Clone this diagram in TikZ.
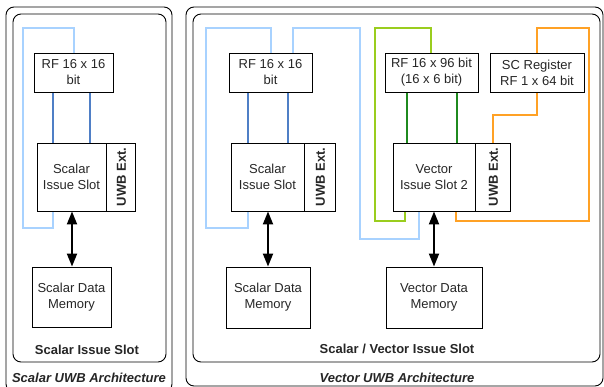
\documentclass[tikz,border=0pt]{standalone}
\usepackage{fontspec}
\setmainfont{Liberation Sans}
\usepackage{tikz}
\usetikzlibrary{arrows.meta, positioning, backgrounds}
\definecolor{txtgray}{HTML}{262626}
\definecolor{lightbus}{HTML}{A8D2FF}
\definecolor{scalarbus}{HTML}{4F7FC6}
\definecolor{limebus}{HTML}{9ACD1E}
\definecolor{vectorbus}{HTML}{1F8A1F}
\definecolor{scbus}{HTML}{FFA125}
\tikzstyle{block} = [rectangle, draw=black, line width=0.9pt, text=txtgray, align=center, inner sep=1pt, font=\fontsize{13}{16}\selectfont]
\tikzstyle{uwb} = [block, minimum height=68, font=\fontsize{13}{16}\selectfont\bfseries]
\tikzstyle{frame} = [draw=black, line width=0.9pt, rounded corners=8pt]
\tikzstyle{bus} = [line width=1.8pt]
\tikzstyle{memarrow} = [line width=2pt, {Triangle[length=13pt,width=10pt]}-{Triangle[length=13pt,width=10pt]}]
\tikzstyle{caption} = [text=txtgray, font=\fontsize{13}{16}\selectfont\bfseries]

\begin{document}
\begin{tikzpicture}[x=1pt, y=-1pt]
    \clip (0,0) rectangle (604,387);

    % Frames
    \draw[frame] (6,7) rectangle (172,392);
    \draw[frame] (13,14) rectangle (166,362);
    \draw[frame] (186,7) rectangle (603,386);
    \draw[frame] (193,14) rectangle (600,362);

    % Scalar architecture
    \node (ls_rf) [block, minimum width=79, minimum height=39] at (73.5,72.5) {RF 16 x 16\\bit};
    \node (ls_slot) [block, minimum width=69, minimum height=68] at (71.5,177) {Scalar\\Issue Slot};
    \node (ls_uwb) [uwb, minimum width=29, right=0pt of ls_slot] {\rotatebox{90}{UWB Ext.}};
    \node (ls_mem) [block, minimum width=79, minimum height=60] at (71.5,297) {Scalar Data\\Memory};

    % Vector architecture, scalar part
    \node (vs_rf) [block, minimum width=83, minimum height=39] at (270.5,72.5) {RF 16 x 16\\bit};
    \node (vs_slot) [block, minimum width=73, minimum height=68] at (267.5,177) {Scalar\\Issue Slot};
    \node (vs_uwb) [uwb, minimum width=31, right=0pt of vs_slot] {\rotatebox{90}{UWB Ext.}};
    \node (vs_mem) [block, minimum width=84, minimum height=61] at (268,297.5) {Scalar Data\\Memory};

    % Vector architecture, vector part
    \node (vv_rf) [block, minimum width=93, minimum height=39] at (431.5,72.5) {RF 16 x 96 bit\\(16 x 6 bit)};
    \node (sc_reg) [block, minimum width=94, minimum height=39] at (537,72.5) {SC Register\\RF 1 x 64 bit};
    \node (vv_slot) [block, minimum width=82, minimum height=68] at (434,177) {Vector\\Issue Slot 2};
    \node (vv_uwb) [uwb, minimum width=35, right=0pt of vv_slot] {\rotatebox{90}{UWB Ext.}};
    \node (vv_mem) [block, minimum width=96, minimum height=61] at (434,297.5) {Vector Data\\Memory};

    % Captions
    \node (ls_cap) [caption] at (87,350) {Scalar Issue Slot};
    \node (ls_arch) [caption, font=\fontsize{13}{16}\selectfont\bfseries\itshape] at (89,378) {Scalar UWB Architecture};
    \node (vs_cap) [caption] at (397,349) {Scalar / Vector Issue Slot};
    \node (vs_arch) [caption, font=\fontsize{13}{16}\selectfont\bfseries\itshape] at (397,378) {Vector UWB Architecture};

    \begin{scope}[on background layer]
        % register file ports
        \draw[bus, scalarbus] (ls_rf.south -| 53,0) -- (ls_slot.north -| 53,0);
        \draw[bus, scalarbus] (ls_rf.south -| 90,0) -- (ls_slot.north -| 90,0);
        \draw[bus, scalarbus] (vs_rf.south -| 248,0) -- (vs_slot.north -| 248,0);
        \draw[bus, scalarbus] (vs_rf.south -| 288,0) -- (vs_slot.north -| 288,0);
        \draw[bus, vectorbus] (vv_rf.south -| 407,0) -- (vv_slot.north -| 407,0);
        \draw[bus, vectorbus] (vv_rf.south -| 457,0) -- (vv_slot.north -| 457,0);

        % write-back loops
        \draw[bus, lightbus] (ls_rf.north -| 74,0) |- (23,28) |- (53,228) -- (ls_slot.south -| 53,0);
        \draw[bus, lightbus] (vs_rf.north -| 271,0) |- (206,28) |- (248,228) -- (vs_slot.south -| 248,0);
        \draw[bus, lightbus] (vs_rf.north -| 293,0) |- (360,28) |- (419,239) -- (vv_slot.south -| 419,0);
        \draw[bus, limebus] (vv_rf.north -| 431,0) |- (375,28) |- (405,221) -- (vv_slot.south -| 405,0);
        \draw[bus, scbus] (sc_reg.north -| 537,0) |- (589,28) |- (456,221) -- (vv_slot.south -| 456,0);
        \draw[bus, scbus] (sc_reg.south -| 537,0) |- (493,115) -- (vv_uwb.north -| 493,0);
    \end{scope}

    % Memory ports
    \draw[memarrow] (ls_slot.south -| 72,0) -- (ls_mem.north -| 72,0);
    \draw[memarrow] (vs_slot.south -| 268,0) -- (vs_mem.north -| 268,0);
    \draw[memarrow] (vv_slot.south -| 434,0) -- (vv_mem.north -| 434,0);
\end{tikzpicture}
\end{document}
